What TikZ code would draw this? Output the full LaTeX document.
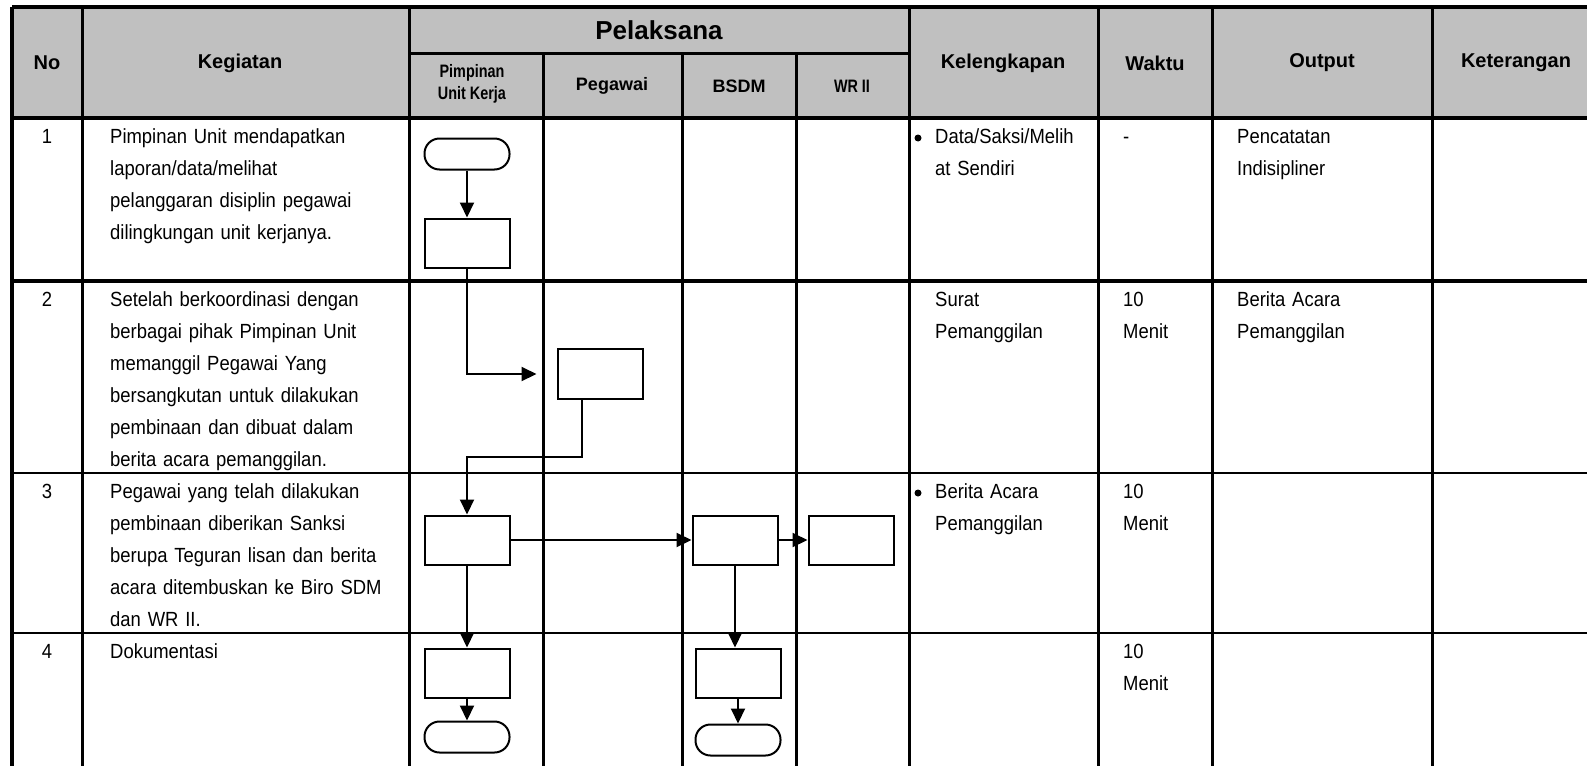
\documentclass[tikz,border=0pt]{standalone}
\usepackage{fontspec}
\setmainfont{Liberation Sans}
\newfontfamily\narrowfont{Liberation Sans}[FakeStretch=0.9,WordSpace=0.8]
\newfontfamily\narrowbold{Liberation Sans Bold}[FakeStretch=0.8]
\usetikzlibrary{arrows.meta,positioning}
\definecolor{headgray}{RGB}{192,192,192}

\begin{document}
\begin{tikzpicture}[x=1pt,y=-1pt,>={Triangle[length=15pt,width=14pt]},
  head/.style={font=\fontsize{20}{24}\selectfont\bfseries,align=center},
  subhead/.style={font=\fontsize{18}{22}\selectfont\bfseries,align=center},
  small head/.style={font=\fontsize{18}{22}\selectfont\narrowbold,align=center},
  cell/.style={anchor=north west,inner sep=0pt,align=left,text width=320pt,
    font=\fontsize{20.5}{32}\selectfont\narrowfont},
  num/.style={anchor=north,inner sep=0pt,font=\fontsize{20.5}{32}\selectfont\narrowfont},
  dot/.style={circle,fill,inner sep=0pt,minimum size=7pt},
  proc/.style={draw,line width=2pt,minimum width=85pt,minimum height=49pt,inner sep=0pt},
  term/.style={proc,rounded corners=15pt,minimum height=31pt},
  flow/.style={->,line width=2pt}]
  \useasboundingbox (0,0) rectangle (1587,766);
  \fill[headgray] (12,7) rectangle (1587,118);
  % table rules
  \draw[line width=3.5pt] (12,7) -- (1587,7);
  \draw[line width=3pt] (409,53) -- (909,53);
  \draw[line width=4pt] (12,118) -- (1587,118);
  \draw[line width=4pt] (12,281) -- (1587,281);
  \draw[line width=2.2pt] (12,473) -- (1587,473);
  \draw[line width=2.2pt] (12,633) -- (1587,633);
  \draw[line width=4.5pt] (12,7) -- (12,766);
  \foreach \x in {82,409,909,1098,1212,1432}
    \draw[line width=3pt] (\x,7) -- (\x,766);
  \foreach \x in {543,682,796}
    \draw[line width=3pt] (\x,53) -- (\x,766);

  \node[head] (hno) at (47,63) {No};
  \node[head] (hkeg) at (240,63) {Kegiatan};
  \node[head,font=\fontsize{26}{30}\selectfont\bfseries] (hpel) at (659,30) {Pelaksana};
  \node[small head] (hpim) at (472,84) {Pimpinan\\Unit Kerja};
  \node[subhead] (hpeg) at (612,86) {Pegawai};
  \node[subhead] (hbsdm) at (739,86) {BSDM};
  \node[small head] (hwr) at (852,86) {WR II};
  \node[head] (hkel) at (1003,63) {Kelengkapan};
  \node[head] (hwak) at (1155,63) {Waktu};
  \node[head] (hout) at (1322,63) {Output};
  \node[head] (hket) at (1516,63) {Keterangan};

  \node[num] (n1) at (47,121) {\strut 1};
  \node[num] (n2) at (47,284) {\strut 2};
  \node[num] (n3) at (47,476) {\strut 3};
  \node[num] (n4) at (47,636) {\strut 4};

  \node[cell] (k1) at (110,121) {\strut Pimpinan Unit mendapatkan\\laporan/data/melihat\\pelanggaran disiplin pegawai\\dilingkungan unit kerjanya.};
  \node[cell] (k2) at (110,284) {\strut Setelah berkoordinasi dengan\\berbagai pihak Pimpinan Unit\\memanggil Pegawai Yang\\bersangkutan untuk dilakukan\\pembinaan dan dibuat dalam\\berita acara pemanggilan.};
  \node[cell] (k3) at (110,476) {\strut Pegawai yang telah dilakukan\\pembinaan diberikan Sanksi\\berupa Teguran lisan dan berita\\acara ditembuskan ke Biro SDM\\dan WR II.};
  \node[cell] (k4) at (110,636) {\strut Dokumentasi};

  \node[dot] (dot1) at (918,138) {};
  \node[cell] (l1) at (935,121) {\strut Data/Saksi/Melih\\at Sendiri};
  \node[cell] (l2) at (935,284) {\strut Surat\\Pemanggilan};
  \node[dot] (dot3) at (918,493) {};
  \node[cell] (l3) at (935,476) {\strut Berita Acara\\Pemanggilan};

  \node[cell] (w1) at (1123,121) {\strut -};
  \node[cell] (w2) at (1123,284) {\strut 10\\Menit};
  \node[cell] (w3t) at (1123,476) {\strut 10\\Menit};
  \node[cell] (w4) at (1123,636) {\strut 10\\Menit};

  \node[cell] (o1) at (1237,121) {\strut Pencatatan\\Indisipliner};
  \node[cell] (o2) at (1237,284) {\strut Berita Acara\\Pemanggilan};

  % flow
  \node[term] (t1) at (467,154) {};
  \node[proc] (b1) at (467,243) {};
  \node[proc,minimum height=50pt] (peg) at (600,374) {};
  \node[proc] (b3) at (467,540) {};
  \node[proc] (s3) at (735,540) {};
  \node[proc] (w3) at (851,540) {};
  \node[proc] (b4) at (467,673) {};
  \node[term] (e4) at (467,737) {};
  \node[proc] (s4) at (738,673) {};
  \node[term] (e4s) at (738,740) {};
  \coordinate (bend3) at (467,457);

  \path[flow] (t1) edge (b1)
              (b3) edge (s3)
              (s3) edge (w3)
              (b3) edge (b4)
              (b4) edge (e4)
              (s4) edge (e4s);
  \draw[flow,shorten >=20pt] (b1) |- (peg);
  \draw[flow] ([xshift=-18pt]peg.south) |- (bend3) -- (b3);
  \draw[flow] (s3.south) -- (s3.south |- s4.north);
\end{tikzpicture}
\end{document}
